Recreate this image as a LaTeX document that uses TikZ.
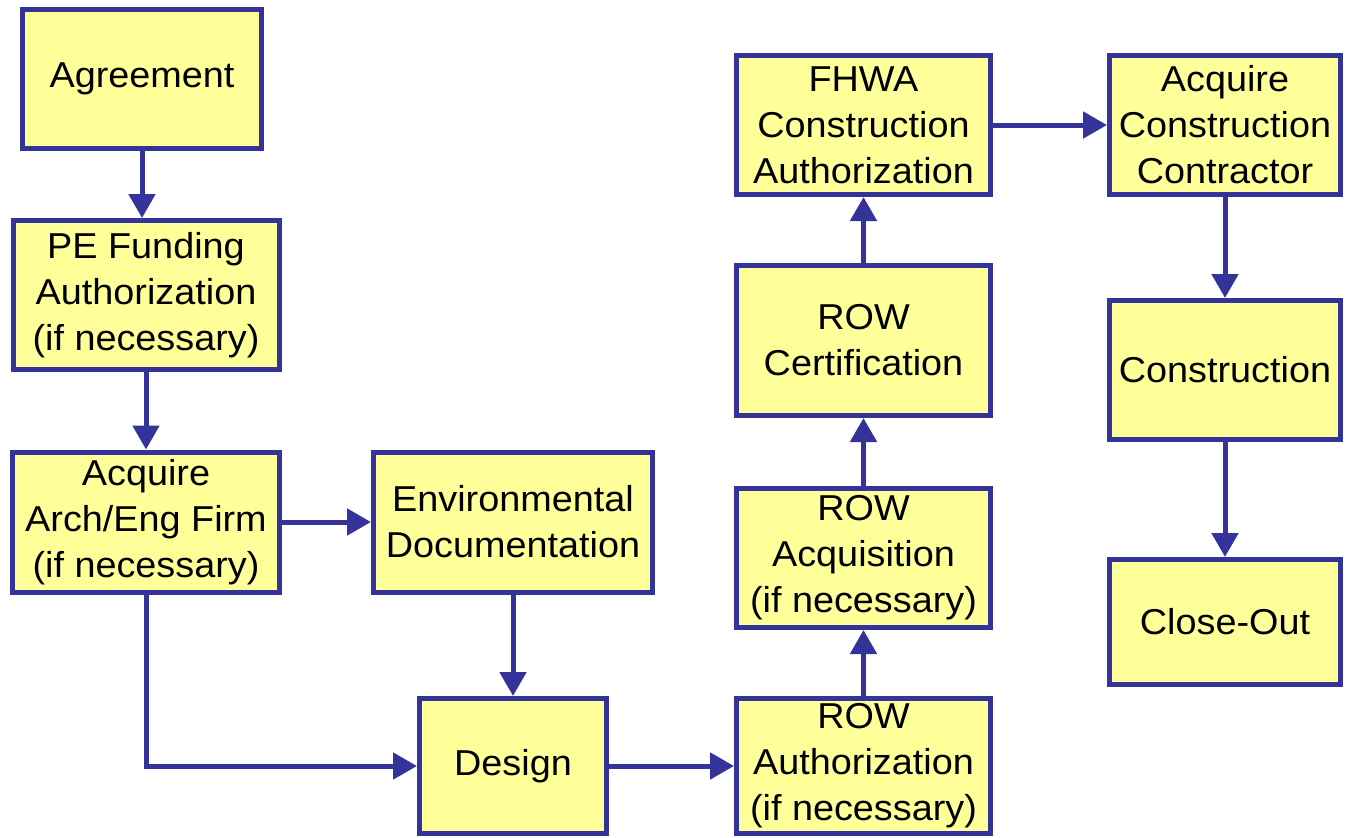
\documentclass[tikz,border=0pt]{standalone}
\usepackage{fontspec}
\setmainfont{Liberation Sans}[FakeStretch=1.05]
\usetikzlibrary{arrows.meta}
\definecolor{boxfill}{HTML}{FFFF99}
\definecolor{boxline}{HTML}{333399}
\begin{document}
\begin{tikzpicture}[x=0.5pt,y=-0.5pt,
  box/.style={draw=boxline, fill=boxfill, line width=2.5pt, align=center,
    inner sep=0pt, font=\fontsize{18}{23}\selectfont},
  conn/.style={draw=boxline, line width=2.5pt,
    -{Triangle[length=12pt,width=13pt]}}]
\useasboundingbox (0,0) rectangle (1346,837);
\fill[white] (0,0) rectangle (1346,837);
\node[box, minimum width=119.5pt, minimum height=69.5pt] (agree) at (142,79) {Agreement};
\node[box, minimum width=133pt, minimum height=74.5pt] (pe) at (146,295) {PE Funding\\Authorization\\(if necessary)};
\node[box, minimum width=133.5pt, minimum height=70pt] (acq) at (146,522) {Acquire\\Arch/Eng Firm\\(if necessary)};
\node[box, minimum width=139.5pt, minimum height=70pt] (env) at (513,522) {Environmental\\Documentation};
\node[box, minimum width=93.5pt, minimum height=67.5pt] (design) at (513,766) {Design};
\node[box, minimum width=127pt, minimum height=67.5pt] (rowauth) at (863.5,766) {ROW\\Authorization\\(if necessary)};
\node[box, minimum width=127pt, minimum height=69.5pt] (rowacq) at (863.5,558) {ROW\\Acquisition\\(if necessary)};
\node[box, minimum width=127pt, minimum height=75pt] (rowcert) at (863.5,340.5) {ROW\\Certification};
\node[box, minimum width=127pt, minimum height=69.5pt] (fhwa) at (863.5,125) {FHWA\\Construction\\Authorization};
\node[box, minimum width=115.5pt, minimum height=69.5pt] (acc) at (1225,125) {Acquire\\Construction\\Contractor};
\node[box, minimum width=115.5pt, minimum height=69.5pt] (constr) at (1225,370) {Construction};
\node[box, minimum width=115.5pt, minimum height=62.5pt] (close) at (1225,622) {Close-Out};
\draw[conn] (agree.south) -- (agree.south |- pe.north);
\draw[conn] (pe.south) -- (acq.north);
\draw[conn] (acq.east) -- (env.west);
\draw[conn] (env.south) -- (design.north);
\draw[conn] (acq.south) |- (design.west);
\draw[conn] (design.east) -- (rowauth.west |- design.east);
\draw[conn] (rowauth.north) -- (rowacq.south);
\draw[conn] (rowacq.north) -- (rowcert.south);
\draw[conn] (rowcert.north) -- (fhwa.south);
\draw[conn] (fhwa.east) -- (acc.west);
\draw[conn] (acc.south) -- (constr.north);
\draw[conn] (constr.south) -- (close.north);
\end{tikzpicture}
\end{document}
